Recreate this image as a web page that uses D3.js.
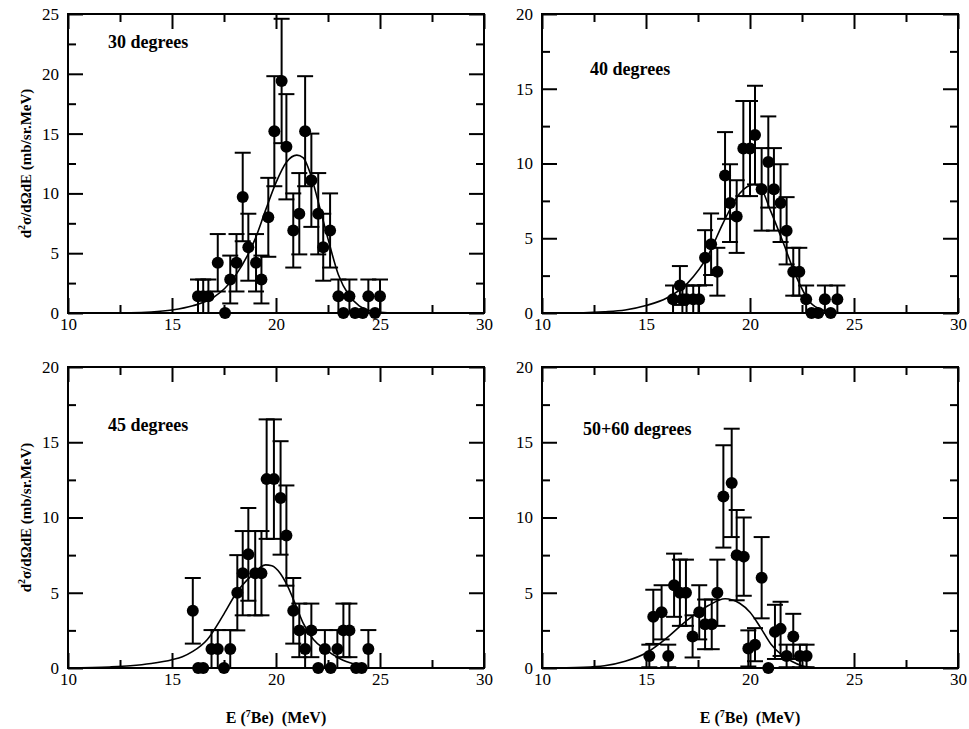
<!DOCTYPE html>
<html>
<head>
<meta charset="utf-8">
<script src="https://cdn.jsdelivr.net/npm/d3@7"></script>
<style>
  body { margin: 0; background: #fff; }
  text { font-family: "Liberation Serif", "DejaVu Serif", serif; fill: #000; }
</style>
</head>
<body>
<svg id="chart" width="969" height="729"></svg>
<script>
// ---- data ----
var xTicks = [10, 15, 20, 25, 30];
var xMinor = [12.5, 17.5, 22.5, 27.5];

// 30 degrees
var e30 = [16.25, 16.5, 16.75, 17.2, 17.55, 17.8, 18.1, 18.4, 18.67, 19.04, 19.3, 19.63, 19.92, 20.27, 20.5, 20.83, 21.12, 21.4, 21.7, 22.03, 22.27, 22.6, 23.0, 23.24, 23.53, 23.8, 24.17, 24.44, 24.76, 25.0];
var v30 = [1.4, 1.4, 1.4, 4.2, 0, 2.8, 4.2, 9.7, 5.5, 4.2, 2.8, 8.0, 15.2, 19.4, 13.9, 6.9, 8.3, 15.2, 11.1, 8.3, 5.5, 6.9, 1.4, 0, 1.4, 0, 0, 1.4, 0, 1.4];
var err30 = [1.4, 1.4, 1.4, 2.4, 0, 2.0, 2.4, 3.7, 2.8, 2.4, 2.0, 3.3, 4.6, 5.2, 4.4, 3.1, 3.4, 4.6, 3.9, 3.4, 2.8, 3.1, 1.4, 0, 1.4, 0, 0, 1.4, 0, 1.4];
var c30E = [10, 13, 14, 15, 16, 17, 18, 19, 19.5, 20, 20.5, 21, 21.3, 21.7, 22, 22.5, 23, 23.5, 24, 24.5, 25, 25.5];
var c30V = [0, 0.02, 0.08, 0.25, 0.6, 1.3, 3.0, 6.2, 8.6, 10.9, 12.6, 13.2, 13.0, 11.4, 9.5, 6.2, 3.2, 1.5, 0.6, 0.2, 0.05, 0];

// 40 degrees
var e40 = [16.3, 16.63, 16.75, 16.95, 17.27, 17.55, 17.84, 18.13, 18.43, 18.8, 19.04, 19.36, 19.68, 20.0, 20.24, 20.56, 20.88, 21.15, 21.47, 21.76, 22.08, 22.37, 22.7, 22.96, 23.28, 23.6, 23.88, 24.2];
var v40 = [0.92, 1.84, 0.92, 0.92, 0.92, 0.92, 3.7, 4.6, 2.76, 9.2, 7.35, 6.45, 11.0, 11.0, 11.9, 8.27, 10.1, 8.27, 7.35, 5.5, 2.76, 2.76, 0.92, 0, 0, 0.92, 0, 0.92];
var err40 = [0.92, 1.3, 0.92, 0.92, 0.92, 0.92, 1.84, 2.06, 1.6, 2.9, 2.6, 2.43, 3.18, 3.18, 3.3, 2.76, 3.05, 2.76, 2.6, 2.25, 1.6, 1.6, 0.92, 0, 0, 0.92, 0, 0.92];
var c40E = [10, 12, 13, 14, 15, 16, 17, 18, 18.7, 19.5, 20.2, 20.5, 21, 21.6, 22.2, 22.9, 23.5, 24.2, 24.5];
var c40V = [0, 0.02, 0.08, 0.2, 0.5, 1.0, 2.0, 3.9, 6.0, 8.0, 8.6, 8.4, 6.8, 4.7, 2.5, 0.7, 0.2, 0.03, 0];

// 45 degrees
var e45 = [16.0, 16.26, 16.5, 16.9, 17.2, 17.5, 17.8, 18.14, 18.4, 18.67, 19.0, 19.3, 19.55, 19.9, 20.22, 20.5, 20.83, 21.12, 21.4, 21.7, 22.03, 22.35, 22.63, 22.95, 23.24, 23.53, 23.85, 24.12, 24.44];
var v45 = [3.8, 0, 0, 1.26, 1.26, 0, 1.26, 5.0, 6.3, 7.55, 6.3, 6.3, 12.55, 12.55, 11.3, 8.8, 3.8, 2.5, 1.26, 2.5, 0, 1.26, 0, 1.26, 2.5, 2.5, 0, 0, 1.26];
var err45 = [2.18, 0, 0, 1.26, 1.26, 0, 1.26, 2.5, 2.8, 3.08, 2.8, 2.8, 3.97, 3.97, 3.77, 3.33, 2.18, 1.78, 1.26, 1.78, 0, 1.26, 0, 1.26, 1.78, 1.78, 0, 0, 1.26];
var c45E = [10, 12, 13, 14, 15, 15.5, 16, 16.7, 17.5, 18.1, 18.8, 19.5, 19.8, 20.2, 20.5, 21, 21.3, 21.8, 22.4, 23.1, 23.9, 24.4];
var c45V = [0, 0.07, 0.15, 0.3, 0.55, 0.75, 1.1, 1.9, 3.6, 5.0, 6.1, 6.85, 6.8, 6.3, 5.6, 4.0, 3.0, 1.9, 1.2, 0.6, 0.2, 0];

// 50+60 degrees
var e50 = [15.16, 15.35, 15.75, 16.07, 16.35, 16.63, 16.92, 17.24, 17.56, 17.84, 18.16, 18.43, 18.72, 19.12, 19.36, 19.7, 19.92, 20.24, 20.56, 20.88, 21.2, 21.47, 21.76, 22.08, 22.4, 22.72];
var v50 = [0.8, 3.4, 3.7, 0.8, 5.5, 5.0, 5.0, 2.1, 3.7, 2.9, 2.9, 5.0, 11.4, 12.3, 7.5, 7.4, 1.3, 1.55, 6.0, 0, 2.4, 2.6, 0.8, 2.1, 0.8, 0.8];
var err50 = [0.75, 1.8, 1.8, 0.75, 2.1, 2.2, 2.2, 1.4, 1.8, 1.65, 1.65, 2.2, 3.4, 3.6, 3.0, 2.6, 1.2, 1.1, 2.7, 0, 1.8, 1.8, 0.75, 1.5, 0.75, 0.75];
var c50E = [10, 12, 13, 14, 15, 16, 17, 18, 18.8, 19.5, 20, 20.5, 21, 21.5, 22, 22.5, 23, 23.3];
var c50V = [0, 0.05, 0.15, 0.45, 1.0, 2.0, 3.2, 4.15, 4.6, 4.3, 3.7, 2.7, 1.6, 0.9, 0.45, 0.15, 0.03, 0];

var panels = [
  { label: "30 degrees", e: e30, v: v30, err: err30, cE: c30E, cV: c30V, ymax: 25, left: 68, top: 14, bottom: 313, lx: 108, ly: 48, ytitle: true, xtitle: false },
  { label: "40 degrees", e: e40, v: v40, err: err40, cE: c40E, cV: c40V, ymax: 20, left: 542, top: 14, bottom: 313, lx: 590, ly: 75, ytitle: false, xtitle: false },
  { label: "45 degrees", e: e45, v: v45, err: err45, cE: c45E, cV: c45V, ymax: 20, left: 68, top: 367, bottom: 668, lx: 108, ly: 431, ytitle: true, xtitle: true },
  { label: "50+60 degrees", e: e50, v: v50, err: err50, cE: c50E, cV: c50V, ymax: 20, left: 542, top: 367, bottom: 668, lx: 583, ly: 435, ytitle: false, xtitle: true }
];
var plotW = 416;
var serif = "'Liberation Serif', 'DejaVu Serif', serif";

var svg = d3.select("#chart");

panels.forEach(function (p) {
  var x = d3.scaleLinear().domain([10, 30]).range([p.left, p.left + plotW]);
  var y = d3.scaleLinear().domain([0, p.ymax]).range([p.bottom, p.top]);
  var yTicks = d3.range(0, p.ymax + 0.1, 5);
  var yMinor = d3.range(2.5, p.ymax, 5);
  var g = svg.append("g");

  // ticks on all four sides, pointing inward
  function addAxis(axis, tr, labels) {
    var a = g.append("g").attr("transform", tr).call(axis);
    a.attr("font-family", null).attr("font-size", null);
    a.select(".domain").remove();
    a.selectAll("line").attr("stroke", "#000").attr("stroke-width", 2);
    a.selectAll("text").style("font-size", "17px").style("font-family", serif);
    if (!labels) a.selectAll("text").remove();
  }
  addAxis(d3.axisBottom(x).tickValues(xTicks).tickSize(-15).tickPadding(5).tickFormat(d3.format("d")), "translate(0," + p.bottom + ")", true);
  addAxis(d3.axisBottom(x).tickValues(xMinor).tickSize(-8), "translate(0," + p.bottom + ")", false);
  addAxis(d3.axisTop(x).tickValues(xTicks).tickSize(-15), "translate(0," + p.top + ")", false);
  addAxis(d3.axisTop(x).tickValues(xMinor).tickSize(-8), "translate(0," + p.top + ")", false);
  addAxis(d3.axisLeft(y).tickValues(yTicks).tickSize(-15).tickPadding(9).tickFormat(d3.format("d")), "translate(" + p.left + ",0)", true);
  addAxis(d3.axisLeft(y).tickValues(yMinor).tickSize(-8), "translate(" + p.left + ",0)", false);
  addAxis(d3.axisRight(y).tickValues(yTicks).tickSize(-15), "translate(" + (p.left + plotW) + ",0)", false);
  addAxis(d3.axisRight(y).tickValues(yMinor).tickSize(-8), "translate(" + (p.left + plotW) + ",0)", false);

  g.append("rect")
    .attr("x", p.left).attr("y", p.top)
    .attr("width", plotW).attr("height", p.bottom - p.top)
    .attr("fill", "none").attr("stroke", "#000").attr("stroke-width", 2);

  // theory curve
  var line = d3.line()
    .x(function (d, i) { return x(p.cE[i]); })
    .y(function (d) { return y(d); })
    .curve(d3.curveMonotoneX);
  g.append("path").datum(p.cV)
    .attr("d", line)
    .attr("fill", "none").attr("stroke", "#000").attr("stroke-width", 1.6);

  // error bars
  var pts = p.e.map(function (e, i) { return { e: e, v: p.v[i], err: p.err[i] }; });
  var bars = g.append("g").selectAll("g").data(pts.filter(function (d) { return d.err > 0; })).enter().append("g")
    .attr("stroke", "#000").attr("stroke-width", 2);
  bars.append("line")
    .attr("x1", function (d) { return x(d.e); }).attr("x2", function (d) { return x(d.e); })
    .attr("y1", function (d) { return y(Math.max(0, d.v - d.err)); })
    .attr("y2", function (d) { return y(d.v + d.err); });
  bars.append("line")
    .attr("x1", function (d) { return x(d.e) - 8; }).attr("x2", function (d) { return x(d.e) + 8; })
    .attr("y1", function (d) { return y(d.v + d.err); }).attr("y2", function (d) { return y(d.v + d.err); });
  bars.filter(function (d) { return d.v - d.err > 0.05; }).append("line")
    .attr("x1", function (d) { return x(d.e) - 8; }).attr("x2", function (d) { return x(d.e) + 8; })
    .attr("y1", function (d) { return y(d.v - d.err); }).attr("y2", function (d) { return y(d.v - d.err); });

  // points
  g.append("g").selectAll("circle").data(pts).enter().append("circle")
    .attr("cx", function (d) { return x(d.e); })
    .attr("cy", function (d) { return y(d.v); })
    .attr("r", 6).attr("fill", "#000");

  g.append("text").attr("x", p.lx).attr("y", p.ly)
    .style("font-family", serif)
    .style("font-size", "18px").style("font-weight", "bold")
    .text(p.label);

  if (p.ytitle) {
    var cy = (p.top + p.bottom) / 2;
    var t = g.append("text")
      .attr("transform", "translate(31," + cy + ") rotate(-90)")
      .attr("text-anchor", "middle")
      .style("font-family", serif)
      .style("font-size", "15px").style("font-weight", "bold");
    t.append("tspan").text("d");
    t.append("tspan").attr("dy", -6).style("font-size", "10px").text("2");
    t.append("tspan").attr("dy", 6).text("σ/dΩdE (mb/sr.MeV)");
  }
  if (p.xtitle) {
    var xt = g.append("text")
      .attr("x", p.left + plotW / 2).attr("y", 723)
      .attr("text-anchor", "middle")
      .style("font-family", serif)
      .style("font-size", "16px").style("font-weight", "bold");
    xt.append("tspan").text("E (");
    xt.append("tspan").attr("dy", -6).style("font-size", "10px").text("7");
    xt.append("tspan").attr("dy", 6).text("Be)\u00a0\u00a0(MeV)");
  }
});
</script>
</body>
</html>
